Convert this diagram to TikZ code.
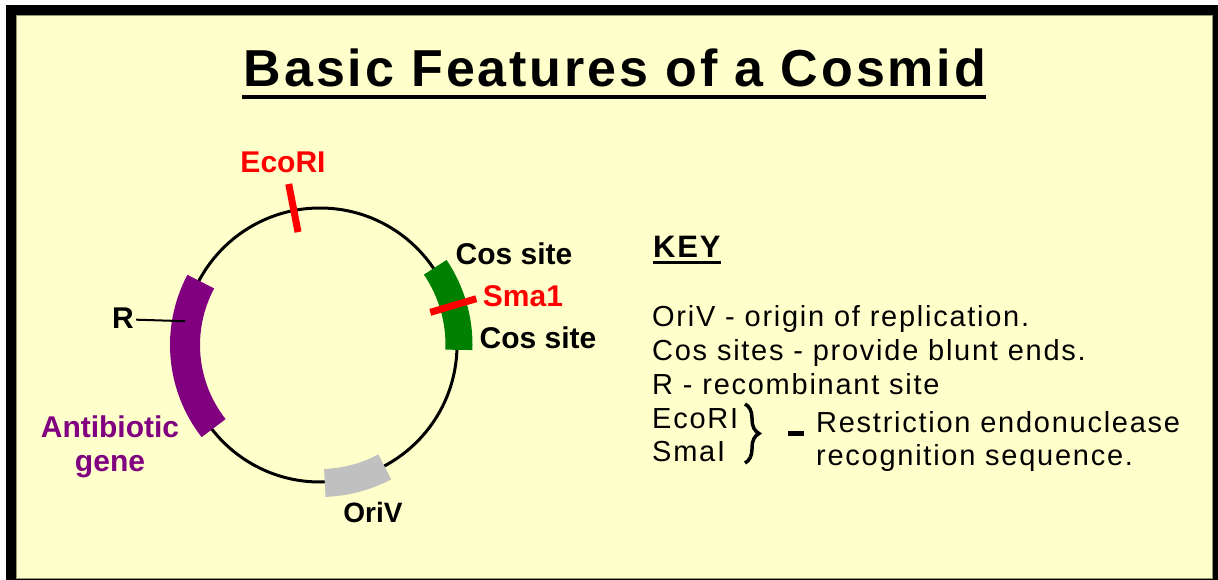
\documentclass[tikz,border=0pt]{standalone}
\usepackage{fontspec}
\setmainfont{Liberation Sans}
\newfontfamily\keyfont[LetterSpace=6]{Liberation Sans}
\newfontfamily\titlefont[LetterSpace=5.5]{Liberation Sans}
\usetikzlibrary{decorations.pathreplacing}
\definecolor{bgyellow}{RGB}{255,255,204}
\definecolor{edgeolive}{RGB}{150,150,110}
\definecolor{abpurple}{RGB}{128,0,128}
\definecolor{cosgreen}{RGB}{0,128,0}
\definecolor{origray}{RGB}{192,192,192}
\definecolor{cutred}{RGB}{255,0,0}
\begin{document}
\begin{tikzpicture}[x=1pt,y=-1pt,
  lbl/.style={font={\fontsize{30}{36}\selectfont\bfseries}, anchor=base, inner sep=0pt},
  keytxt/.style={font={\keyfont\fontsize{29}{34}\selectfont}, anchor=base west, inner sep=0pt},
  band/.style={line cap=butt},
  tick/.style={line width=7pt, cutred},
]
\useasboundingbox (0,0) rectangle (1218,580);
\fill[white] (0,0) rectangle (1218,580);
\fill[black] (6,5) rectangle (1218,580);
\fill[bgyellow, draw=edgeolive, line width=1pt] (16,16) rectangle (1212,578);

% title
\node[font={\titlefont\fontsize{52}{60}\selectfont\bfseries}, anchor=base, inner sep=0pt] (title) at (615,87) {Basic Features of a Cosmid};
\draw[line width=4pt] ([xshift=-2pt,yshift=-10pt]title.base west) -- ([yshift=-10pt]title.base east);

% plasmid circle
\begin{scope}[shift={(320,345)}, y={(0,1pt)}]
  \coordinate (ctr) at (0,0);
  \draw[line width=3pt] (ctr) circle[radius=137];
  \draw[band, line width=30pt, abpurple] (152:135) arc[start angle=152, end angle=218, radius=135];
  \draw[band, line width=27pt, cosgreen] (-2:139) arc[start angle=-2, end angle=34, radius=139];
  \draw[band, line width=28pt, origray] (-88:138) arc[start angle=-88, end angle=-62, radius=138];
  \coordinate (ecoin) at (101:115);
  \coordinate (ecoout) at (101:164);
  \coordinate (smain) at (16.5:115);
  \coordinate (smaout) at (16.5:163);
  \coordinate (rsite) at (170:137);
\end{scope}
\draw[tick] (ecoin) -- (ecoout);
\draw[tick] (smain) -- (smaout);

% labels
\node[lbl, cutred] (ecolbl) at (283,173) {EcoRI};
\node[lbl] (cos1) at (514,265) {Cos site};
\node[lbl, cutred] (smalbl) at (523,306) {Sma1};
\node[lbl] (cos2) at (538,348) {Cos site};
\node[lbl, font={\fontsize{28}{34}\selectfont\bfseries}] (orilbl) at (373,522) {OriV};
\node[lbl, abpurple] (ab1) at (110,437) {Antibiotic};
\node[lbl, abpurple] (ab2) at (110,471) {gene};
\node[lbl] (rlbl) at (123,328) {R};
\draw[line width=2pt] ([xshift=2pt,yshift=-2pt]rlbl.east) -- (rsite);

% key
\node[font={\keyfont\fontsize{31}{36}\selectfont\bfseries}, anchor=base west, inner sep=0pt] (key) at (653,258) {KEY};
\draw[line width=3pt] ([yshift=-4pt]key.base west) -- ([yshift=-4pt]key.base east);
\node[keytxt] (k1) at (652,326) {OriV - origin of replication.};
\node[keytxt] (k2) at (652,360) {Cos sites - provide blunt ends.};
\node[keytxt] (k3) at (652,394) {R - recombinant site};
\node[keytxt] (k4) at (652,428) {EcoRI};
\node[keytxt] (k5) at (652,461) {SmaI};
\node[keytxt] (k6) at (816,432) {Restriction endonuclease};
\node[keytxt] (k7) at (816,465) {recognition sequence.};
\coordinate (brtop) at (745,404);
\coordinate (brbot) at (745,463);
\draw[line width=3.5pt, decorate, decoration={brace, amplitude=14pt, aspect=0.5}] (brtop) -- (brbot);
\coordinate (dashl) at (788,433);
\coordinate (dashr) at (804,433);
\draw[line width=5pt] (dashl) -- (dashr);
\end{tikzpicture}
\end{document}
